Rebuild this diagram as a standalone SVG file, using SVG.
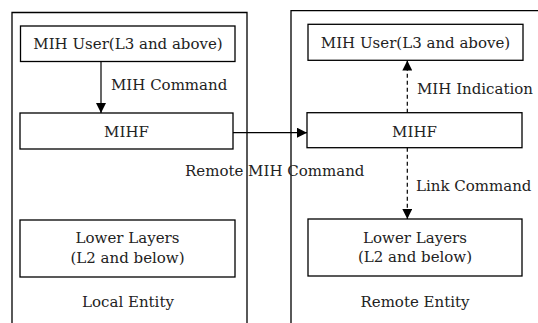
<svg xmlns="http://www.w3.org/2000/svg" width="538" height="323" viewBox="0 0 538 323">
<style>
.box{fill:#fff;stroke:#000;stroke-width:1.3}
.ent{fill:none;stroke:#000;stroke-width:1.3}
.t{font-family:'DejaVu Serif','Liberation Serif',serif;font-size:15px;fill:#222}
.c{text-anchor:middle}
.ln{stroke:#000;stroke-width:1.2;fill:none}
.d{stroke-dasharray:4 3}
</style>
<defs>
<marker id="ah" viewBox="0 0 10 10" refX="10" refY="5" markerWidth="10" markerHeight="10" markerUnits="userSpaceOnUse" orient="auto">
<path d="M0,0 L10,5 L0,10 Z" fill="#000"/>
</marker>
</defs>
<g id="local-entity">
<path class="ent" d="M12,323 V12.5 H247 V323"/>
<text class="t c" x="128" y="307">Local Entity</text>
</g>
<g id="remote-entity">
<path class="ent" d="M291,323 V10.7 H538"/>
<text class="t c" x="415" y="307">Remote Entity</text>
</g>
<g id="local-user">
<rect class="box" x="20.5" y="26" width="214.5" height="35.5"/>
<text class="t c" x="128" y="48.5">MIH User(L3 and above)</text>
</g>
<g id="local-mihf">
<rect class="box" x="20" y="113" width="213" height="36"/>
<text class="t c" x="126.5" y="137">MIHF</text>
</g>
<g id="local-lower">
<rect class="box" x="20" y="220" width="215" height="57"/>
<text class="t c" x="127.5" y="243">Lower Layers</text>
<text class="t c" x="127.5" y="262.5">(L2 and below)</text>
</g>
<g id="remote-user">
<rect class="box" x="308" y="24.3" width="215" height="36"/>
<text class="t c" x="415.5" y="48.3">MIH User(L3 and above)</text>
</g>
<g id="remote-mihf">
<rect class="box" x="307" y="112.7" width="215" height="35"/>
<text class="t c" x="414.5" y="137">MIHF</text>
</g>
<g id="remote-lower">
<rect class="box" x="308" y="219" width="214" height="57"/>
<text class="t c" x="415" y="242.5">Lower Layers</text>
<text class="t c" x="415" y="261.5">(L2 and below)</text>
</g>
<g id="connectors">
<line class="ln" x1="101" y1="61.5" x2="101" y2="113" marker-end="url(#ah)"/>
<text class="t" x="111" y="90">MIH Command</text>
<line class="ln" x1="233" y1="132.7" x2="307" y2="132.7" marker-end="url(#ah)"/>
<text class="t" x="185" y="176">Remote MIH Command</text>
<line class="ln d" x1="407.3" y1="112.7" x2="407.3" y2="60.5" marker-end="url(#ah)"/>
<text class="t" x="417" y="94">MIH Indication</text>
<line class="ln d" x1="407.3" y1="147.7" x2="407.3" y2="219" marker-end="url(#ah)"/>
<text class="t" x="416" y="191">Link Command</text>
</g>
</svg>
